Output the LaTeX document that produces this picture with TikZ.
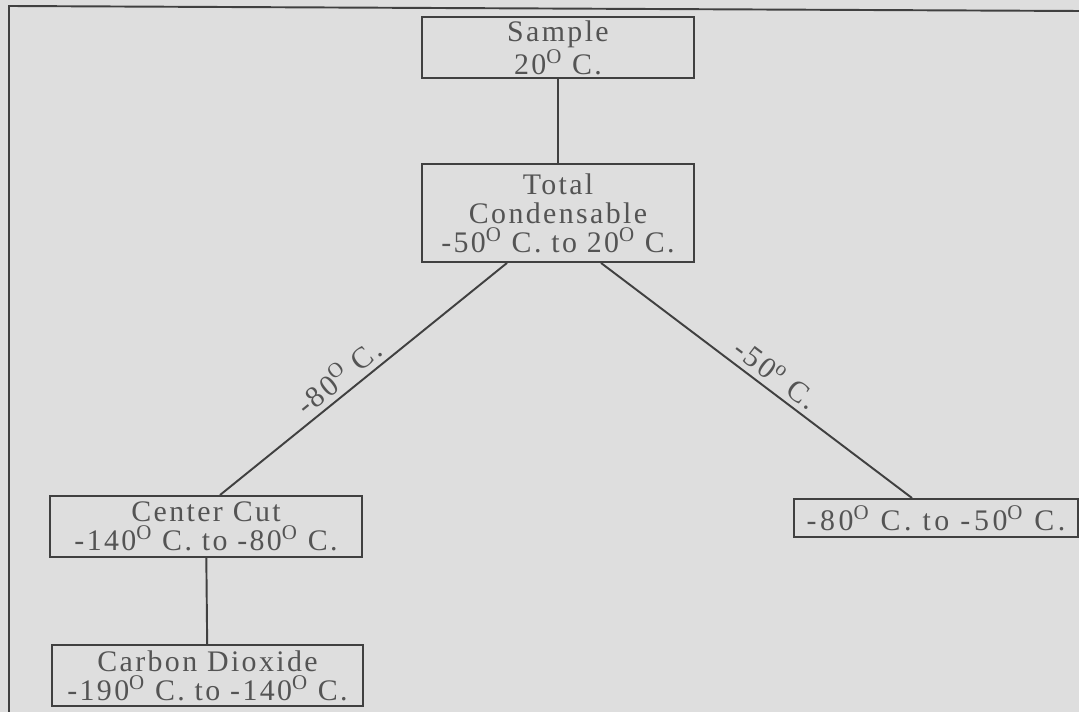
\documentclass[tikz,border=0pt]{standalone}
\usepackage{fontspec}
\setmainfont{Liberation Serif}[LetterSpace=8]
\usetikzlibrary{calc,positioning}
\definecolor{scangray}{gray}{0.87}
\definecolor{inkline}{gray}{0.25}
\definecolor{inktext}{gray}{0.33}
\newcommand{\degO}{\textsuperscript{O}}
\tikzset{
  fraction/.style={
    draw=inkline,
    line width=1.1pt,
    fill=scangray,
    align=center,
    text=inktext,
    inner sep=2pt,
    font=\fontsize{17}{16.5}\selectfont
  },
  linkline/.style={
    draw=inkline,
    line width=1.1pt
  },
  templabel/.style={
    text=inktext,
    sloped,
    above,
    inner sep=3pt,
    font=\fontsize{17}{17}\selectfont
  }
}
\begin{document}
\begin{tikzpicture}[x=0.02cm,y=-0.02cm]
\fill[scangray] (0,0) rectangle (1079,712);
\useasboundingbox (0,0) rectangle (1079,712);
\draw[linkline] (1079,11) -- (9,6) -- (9,712);
\node[fraction,minimum width=5.44cm,minimum height=1.18cm] (s) at (558,47.5) {Sample\\20\degO{} C.};
\node[fraction,minimum width=5.44cm,minimum height=1.96cm] (tc) at (558,213) {Total\\Condensable\\-50\degO{} C. to 20\degO{} C.};
\node[fraction,minimum width=6.24cm,minimum height=1.22cm] (cc) at (206,526.5) {Center Cut\\-140\degO{} C. to -80\degO{} C.};
\node[fraction,minimum width=6.22cm,minimum height=1.22cm] (cd) at (207.5,675.5) {Carbon Dioxide\\-190\degO{} C. to -140\degO{} C.};
\node[fraction,minimum width=5.68cm,minimum height=0.76cm,font=\fontsize{17}{16.5}\selectfont\addfontfeatures{LetterSpace=12}] (lt) at (936,518) {-80\degO{} C. to -50\degO{} C.};
\draw[linkline] (s) -- (tc);
\draw[linkline] ([xshift=0.28cm]cc.north) -- node[templabel,pos=0.45] {-80\degO{} C.} ([xshift=-1.02cm]tc.south);
\draw[linkline] ([xshift=0.86cm]tc.south) -- node[templabel,pos=0.53] {-50\textsuperscript{o} C.} ([xshift=-0.48cm]lt.north);
\draw[linkline] (cc) -- (cd);
\end{tikzpicture}
\end{document}
